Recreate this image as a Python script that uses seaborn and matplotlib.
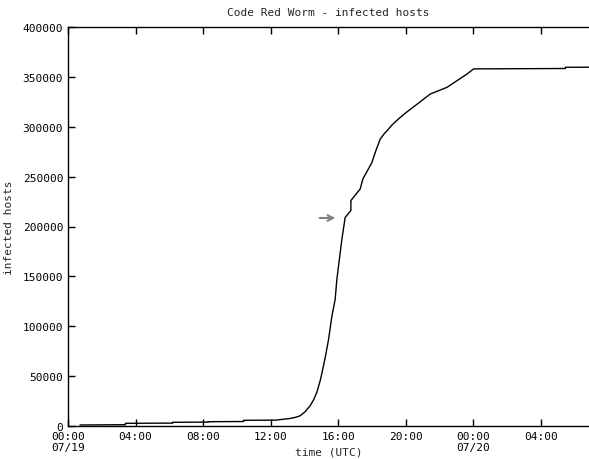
import matplotlib
matplotlib.use("Agg")
import matplotlib.pyplot as plt
import seaborn as sns
import pandas as pd

# Hours since 07/19 00:00 UTC
hours = [0.71, 3.40, 3.40, 6.20, 6.20, 8.30, 8.30, 10.40, 10.40, 12.30, 12.75,
         13.15, 13.50, 13.75, 14.05, 14.34, 14.55, 14.74, 14.95, 15.13, 15.28,
         15.43, 15.63, 15.82, 15.92, 16.22, 16.41, 16.75, 16.75, 17.30, 17.46,
         17.99, 18.25, 18.49, 18.70, 18.89, 19.20, 19.58, 20.0, 20.7, 21.45,
         22.44, 23.63, 24.02, 29.45, 29.45, 30.9]
hosts = [1000, 1300, 2700, 2900, 3700, 3900, 4300, 4500, 5700, 5900, 6800,
         7500, 8800, 10300, 14500, 20400, 26500, 34000, 46500, 60500, 73000,
         87000, 110500, 127000, 147000, 187500, 209000, 216000, 226000, 237600, 247600,
         264000, 277000, 287700, 292500, 296000, 302000, 308000, 314000, 323000, 332800,
         339500, 352900, 358000, 358400, 359600, 359700]

yticks = [0, 50000, 100000, 150000, 200000, 250000, 300000, 350000, 400000]
xticks = [0, 4, 8, 12, 16, 20, 24, 28]
xticklabels = ["00:00\n07/19", "04:00", "08:00", "12:00", "16:00", "20:00",
               "00:00\n07/20", "04:00"]

df = pd.DataFrame({"hours": hours, "hosts": hosts})

sns.set_style("white")
plt.rcParams["font.family"] = ["DejaVu Sans Mono"]

fig = plt.figure(figsize=(5.89, 4.60), dpi=100)
ax = fig.add_axes([68/589, 33/460, 521/589, 399/460])

sns.lineplot(data=df, x="hours", y="hosts", ax=ax, color="black", linewidth=1.0,
             sort=False, estimator=None)

ax.annotate("", xy=(16.0, 208500), xytext=(14.74, 208500),
            arrowprops=dict(arrowstyle="->", color="#808080", lw=1.5))

ax.set_xlim(0, 30.85)
ax.set_ylim(0, 400000)
ax.set_xticks(xticks)
ax.set_xticklabels(xticklabels)
ax.set_yticks(yticks)
ax.set_yticklabels([str(v) for v in yticks])
ax.tick_params(axis="both", direction="in", length=5, width=1, labelsize=8,
               colors="black", top=True, bottom=True, left=True, right=False)
for side in ["left", "bottom", "top"]:
    ax.spines[side].set_color("black")
    ax.spines[side].set_linewidth(1.0)
ax.spines["right"].set_visible(False)

ax.set_xlabel("time (UTC)", fontsize=8, labelpad=-4)
ax.set_ylabel("infected hosts", fontsize=8, labelpad=6)
ax.set_title("Code Red Worm - infected hosts", fontsize=8, pad=9)

fig.savefig("out.png", dpi=100)
